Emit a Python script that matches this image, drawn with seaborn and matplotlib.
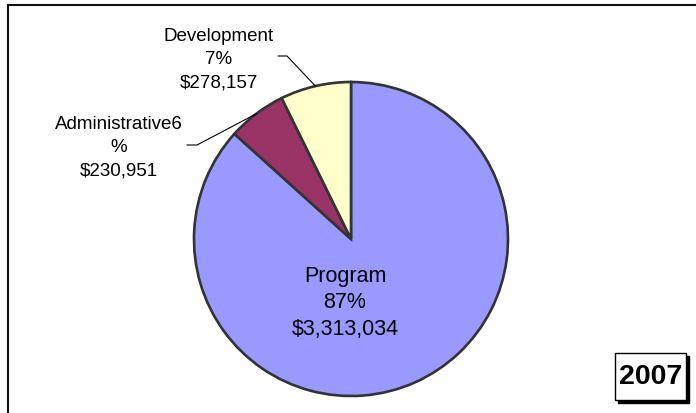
import numpy as np
import matplotlib
matplotlib.use('Agg')
import matplotlib.pyplot as plt
import seaborn as sns
from matplotlib.patches import Rectangle

# data (2007 budget split)
categories = ['Program', 'Administrative', 'Development']
amounts = [3313034, 230951, 278157]
pct_labels = ['87%', '6', '7%']
colors = ['#9999FF', '#993366', '#FFFFCC']
year_label = '2007'

sns.set_style('white')
plt.rcParams['font.family'] = ['Liberation Sans', 'DejaVu Sans']
plt.rcParams['text.color'] = 'black'

W, H = 696, 414
fig = plt.figure(figsize=(W / 100, H / 100), dpi=100)
ax = fig.add_axes([0, 0, 1, 1])

wedges, _ = ax.pie(amounts, colors=colors, startangle=90, counterclock=False,
                   wedgeprops=dict(edgecolor='#333333', linewidth=1.9))

# pixel mapping: centre (351, 240), radius 157 px
cx, cy, r = 351, 240, 157
ax.set_xlim(-cx / r, (W - cx) / r)
ax.set_ylim(-(H - cy) / r, cy / r)
ax.set_aspect('auto')
ax.axis('off')

def px(x, y):
    return (x - cx) / r, (cy - y) / r

def money(v):
    return '${:,}'.format(v)

# Program label inside
ax.text(*px(345, 303), f'{categories[0]}\n{pct_labels[0]}\n{money(amounts[0])}',
        ha='center', va='center', fontsize=15.5, linespacing=1.35, color='black')

# outside labels with leader lines
outside = {
    1: dict(text=f'{categories[1]}{pct_labels[1]}\n%\n{money(amounts[1])}',
            pos=(119, 148), elbow=[(187, 146), (197, 146)]),
    2: dict(text=f'{categories[2]}\n{pct_labels[2]}\n{money(amounts[2])}',
            pos=(219, 60), elbow=[(278, 57), (287, 57)]),
}
for i, o in outside.items():
    w = wedges[i]
    mid = np.deg2rad((w.theta1 + w.theta2) / 2)
    ex, ey = np.cos(mid), np.sin(mid)
    pts = [px(*p) for p in o['elbow']] + [(ex, ey)]
    ax.plot([p[0] for p in pts], [p[1] for p in pts], color='black', lw=0.8)
    ax.text(*px(*o['pos']), o['text'], ha='center', va='center',
            fontsize=13.5, linespacing=1.5, color='black')

# outer frame (only top/left visible)
fig.add_artist(Rectangle((7.5 / W, -0.2), 1.2, 1.2 - 5.5 / H,
                         transform=fig.transFigure, fill=False,
                         edgecolor='#111111', lw=1.5, clip_on=False))

# year box with shadow
bx0, by0, bx1, by1 = 615, 354, 686, 401
fig.add_artist(Rectangle(((bx0 + 3) / W, 1 - (by1 + 3) / H), (bx1 - bx0) / W,
                         (by1 - by0) / H, transform=fig.transFigure,
                         facecolor='black', edgecolor='black', lw=1))
fig.add_artist(Rectangle((bx0 / W, 1 - by1 / H), (bx1 - bx0) / W,
                         (by1 - by0) / H, transform=fig.transFigure,
                         facecolor='white', edgecolor='black', lw=1))
fig.text((bx0 + bx1) / 2 / W, 1 - (by0 + by1) / 2 / H, year_label,
         ha='center', va='center', fontsize=20.5, fontweight='bold', color='black')

fig.savefig('out.png', dpi=100)
